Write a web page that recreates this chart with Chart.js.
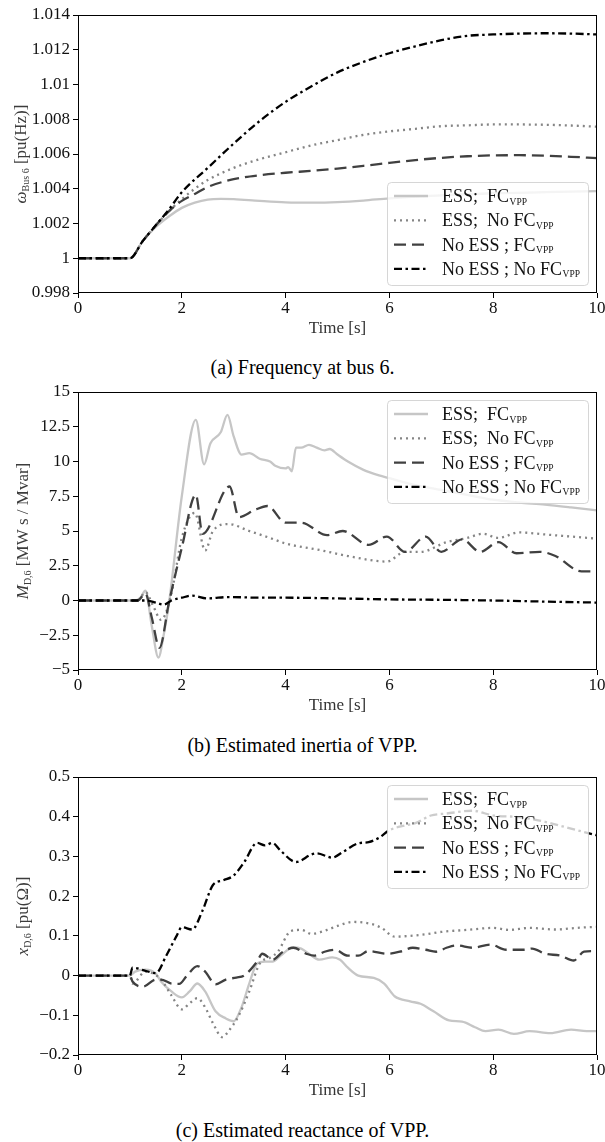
<!DOCTYPE html>
<html>
<head>
<meta charset="utf-8">
<script src="https://cdn.jsdelivr.net/npm/chart.js@4.4.1/dist/chart.umd.min.js"></script>
<style>
html,body{margin:0;padding:0;background:#fff;}
#wrap{position:relative;width:605px;height:1142px;overflow:hidden;}
canvas{position:absolute;left:0;}
.cap{position:absolute;left:0;width:605px;text-align:center;font-family:'Liberation Serif','Times New Roman',serif;font-size:20px;line-height:24px;color:#000;}
</style>
</head>
<body>
<div id="wrap">
<canvas id="c1" width="605" height="345" style="top:0px"></canvas>
<div class="cap" style="top:355px">(a) Frequency at bus 6.</div>
<canvas id="c2" width="605" height="345" style="top:377px"></canvas>
<div class="cap" style="top:733px">(b) Estimated inertia of VPP.</div>
<canvas id="c3" width="605" height="345" style="top:762px"></canvas>
<div class="cap" style="top:1118px">(c) Estimated reactance of VPP.</div>
</div>
<script>
// ---------- shared labels ----------
const seriesLabels = ['ESS;  FC', 'ESS;  No FC', 'No ESS ; FC', 'No ESS ; No FC'];
const seriesSub = 'VPP';
const xTitle = 'Time [s]';
const xTickValues = [0, 2, 4, 6, 8, 10];
const xTickLabels = ['0', '2', '4', '6', '8', '10'];

// ---------- (a) frequency at bus 6 ----------
const freqTickValues = [0.998, 1.0, 1.002, 1.004, 1.006, 1.008, 1.01, 1.012, 1.014];
const freqTickLabels = ['0.998', '1', '1.002', '1.004', '1.006', '1.008', '1.01', '1.012', '1.014'];
const freqTitle = [['ω', 'i'], ['Bus 6', 's'], [' [pu(Hz)]', 'n']];
const freqT_essFc = [0, 1.0, 1.25, 1.5, 1.75, 2.0, 2.25, 2.5, 2.75, 3.0, 3.5, 4.0, 4.5, 5.0, 5.5, 6.0, 7.0, 8.0, 9.0, 10];
const freqV_essFc = [1.0, 1.0, 1.0010, 1.0018, 1.0024, 1.0029, 1.0032, 1.00338, 1.00342, 1.0034, 1.0033, 1.00322, 1.0032, 1.00323, 1.00332, 1.00345, 1.00362, 1.00374, 1.0038, 1.00386];
const freqT_essNoFc = [0, 1.0, 1.25, 1.5, 1.75, 2.0, 2.25, 2.5, 3.0, 3.5, 4.0, 4.5, 5.0, 5.5, 6.0, 6.5, 7.0, 7.5, 8.0, 8.5, 9.0, 9.5, 10];
const freqV_essNoFc = [1.0, 1.0, 1.0010, 1.0019, 1.0027, 1.0034, 1.0040, 1.0045, 1.0052, 1.0057, 1.0061, 1.0065, 1.0068, 1.0071, 1.0073, 1.00745, 1.0076, 1.00765, 1.0077, 1.0077, 1.00768, 1.00764, 1.00757];
const freqT_noEssFc = [0, 1.0, 1.25, 1.5, 1.75, 2.0, 2.25, 2.5, 3.0, 3.5, 4.0, 4.5, 5.0, 5.5, 6.0, 6.5, 7.0, 7.5, 8.0, 8.5, 9.0, 9.5, 10];
const freqV_noEssFc = [1.0, 1.0, 1.0010, 1.0019, 1.0027, 1.0033, 1.0037, 1.0041, 1.00455, 1.00478, 1.00492, 1.00503, 1.00516, 1.00532, 1.00549, 1.00565, 1.00578, 1.00587, 1.00592, 1.00593, 1.0059, 1.00584, 1.00576];
const freqT_noEssNoFc = [0, 1.0, 1.25, 1.5, 1.75, 2.0, 2.5, 3.0, 3.5, 4.0, 4.5, 5.0, 5.5, 6.0, 6.5, 7.0, 7.5, 8.0, 8.5, 9.0, 9.5, 10];
const freqV_noEssNoFc = [1.0, 1.0, 1.0010, 1.0019, 1.0028, 1.0038, 1.0052, 1.0066, 1.0079, 1.0090, 1.0099, 1.0107, 1.0113, 1.0118, 1.0122, 1.01255, 1.0128, 1.01288, 1.01293, 1.01295, 1.01293, 1.01288];

// ---------- (b) estimated inertia ----------
const inTickValues = [-5, -2.5, 0, 2.5, 5, 7.5, 10, 12.5, 15];
const inTickLabels = ['\u22125', '\u22122.5', '0', '2.5', '5', '7.5', '10', '12.5', '15'];
const inTitle = [['M', 'i'], ['D,6', 's'], [' [MW s / Mvar]', 'n']];
const inT_essFc = [0, 1.1, 1.2, 1.3, 1.42, 1.55, 1.65, 1.76, 2.0, 2.27, 2.43, 2.55, 2.75, 2.88, 3.0, 3.15, 3.3, 3.5, 3.7, 3.8, 4.0, 4.05, 4.12, 4.2, 4.3, 4.45, 4.6, 4.75, 4.85, 5.0, 5.2, 5.5, 5.8, 6.0, 6.5, 7.0, 7.5, 8.0, 8.5, 9.0, 9.5, 10];
const inV_essFc = [0, 0, 0.2, 0.7, -1.8, -4.1, -2.5, 0, 7.5, 13.0, 9.8, 11.3, 12.1, 13.35, 11.8, 10.5, 10.6, 10.2, 10.0, 9.7, 9.5, 9.6, 9.3, 11.0, 11.0, 11.2, 11.0, 10.8, 10.9, 10.5, 10.0, 9.4, 9.0, 8.8, 8.3, 7.95, 7.6, 7.25, 7.05, 6.9, 6.7, 6.48];
const inT_essNoFc = [0, 1.15, 1.3, 1.45, 1.6, 1.8, 2.0, 2.25, 2.45, 2.6, 2.9, 3.3, 3.7, 4.0, 4.7, 5.2, 5.95, 6.3, 6.6, 7.1, 7.5, 7.8, 8.1, 8.5, 9.0, 9.5, 10];
const inV_essNoFc = [0, 0, 0.6, -0.4, -1.4, 0.5, 4.5, 6.3, 3.6, 5.0, 5.5, 5.0, 4.5, 4.1, 3.6, 3.2, 2.8, 3.5, 3.5, 4.2, 4.5, 4.8, 4.5, 4.9, 4.75, 4.6, 4.45];
const inT_noEssFc = [0, 1.15, 1.3, 1.42, 1.57, 1.75, 2.0, 2.27, 2.4, 2.92, 3.1, 3.4, 3.65, 4.0, 4.3, 4.8, 5.1, 5.6, 5.95, 6.3, 6.7, 7.0, 7.4, 7.75, 8.1, 8.45, 8.9, 9.2, 9.7, 10];
const inV_noEssFc = [0, 0, 0.5, -1.2, -3.4, -0.2, 3.8, 7.6, 4.8, 8.2, 6.0, 6.5, 6.8, 5.6, 5.6, 4.7, 5.0, 4.0, 4.6, 3.5, 4.6, 3.5, 4.4, 3.5, 4.2, 3.4, 3.5, 3.2, 2.1, 2.1];
const inT_noEssNoFc = [0, 1.3, 1.5, 1.65, 1.8, 2.0, 2.2, 2.5, 2.9, 3.5, 4.0, 5.0, 6.0, 7.0, 8.0, 9.0, 10];
const inV_noEssNoFc = [0, 0, -0.15, -0.3, 0, 0.2, 0.35, 0.15, 0.25, 0.2, 0.2, 0.15, 0.08, 0.05, 0.0, -0.08, -0.15];

// ---------- (c) estimated reactance ----------
const xdTickValues = [-0.2, -0.1, 0, 0.1, 0.2, 0.3, 0.4, 0.5];
const xdTickLabels = ['\u22120.2', '\u22120.1', '0', '0.1', '0.2', '0.3', '0.4', '0.5'];
const xdTitle = [['x', 'i'], ['D,6', 's'], [' [pu(\u03A9)]', 'n']];
const xdT_essFc = [0, 1.0, 1.1, 1.3, 1.5, 1.6, 1.8, 2.0, 2.15, 2.3, 2.45, 2.65, 2.85, 3.0, 3.15, 3.3, 3.45, 3.6, 3.75, 3.9, 4.15, 4.3, 4.45, 4.65, 4.9, 5.05, 5.2, 5.4, 5.7, 5.9, 6.1, 6.4, 6.6, 6.85, 7.15, 7.4, 7.65, 7.85, 8.1, 8.4, 8.7, 9.1, 9.5, 9.8, 10];
const xdV_essFc = [0, 0, 0.01, 0.015, 0.005, -0.015, -0.04, -0.055, -0.04, -0.02, -0.04, -0.09, -0.108, -0.115, -0.08, -0.02, 0.03, 0.035, 0.035, 0.05, 0.071, 0.068, 0.055, 0.04, 0.046, 0.04, 0.02, 0.0, -0.006, -0.02, -0.052, -0.065, -0.071, -0.09, -0.113, -0.116, -0.13, -0.14, -0.136, -0.147, -0.14, -0.145, -0.136, -0.14, -0.14];
const xdT_essNoFc = [0, 1.0, 1.05, 1.3, 1.6, 1.8, 2.0, 2.15, 2.3, 2.45, 2.6, 2.78, 2.9, 3.1, 3.3, 3.5, 3.7, 3.85, 4.1, 4.3, 4.5, 4.8, 5.0, 5.3, 5.65, 5.85, 6.1, 6.4, 6.7, 7.0, 7.5, 8.0, 8.3, 8.7, 9.2, 9.6, 10];
const xdV_essNoFc = [0, 0, -0.02, 0.01, -0.01, -0.05, -0.085, -0.07, -0.057, -0.08, -0.12, -0.155, -0.14, -0.1, -0.04, 0.03, 0.045, 0.06, 0.112, 0.115, 0.105, 0.115, 0.125, 0.135, 0.13, 0.12, 0.098, 0.1, 0.104, 0.11, 0.115, 0.12, 0.115, 0.12, 0.116, 0.12, 0.123];
const xdT_noEssFc = [0, 1.0, 1.05, 1.25, 1.5, 1.6, 1.8, 1.95, 2.1, 2.3, 2.45, 2.65, 2.85, 3.05, 3.2, 3.45, 3.55, 3.75, 3.95, 4.15, 4.4, 4.55, 4.75, 4.95, 5.2, 5.4, 5.6, 5.95, 6.2, 6.45, 6.7, 6.9, 7.1, 7.3, 7.6, 7.95, 8.25, 8.6, 8.75, 9.0, 9.3, 9.55, 9.75, 10];
const xdV_noEssFc = [0, 0, -0.015, -0.028, -0.01, -0.01, -0.02, -0.021, 0.0, 0.024, 0.01, -0.022, -0.01, -0.005, 0.0, 0.035, 0.055, 0.04, 0.06, 0.07, 0.055, 0.05, 0.06, 0.065, 0.05, 0.05, 0.062, 0.055, 0.06, 0.07, 0.065, 0.06, 0.07, 0.076, 0.07, 0.078, 0.065, 0.065, 0.068, 0.055, 0.05, 0.038, 0.06, 0.062];
const xdT_noEssNoFc = [0, 1.0, 1.05, 1.3, 1.5, 1.7, 1.9, 2.0, 2.2, 2.4, 2.6, 2.8, 3.0, 3.2, 3.45, 3.6, 3.75, 3.9, 4.2, 4.5, 4.6, 4.9, 5.1, 5.4, 5.6, 5.8, 6.0, 6.3, 6.5, 6.8, 7.1, 7.6, 8.0, 8.5, 9.0, 9.5, 10];
const xdV_noEssNoFc = [0, 0, 0.02, 0.012, 0.006, 0.05, 0.1, 0.122, 0.116, 0.164, 0.228, 0.24, 0.252, 0.285, 0.334, 0.328, 0.334, 0.315, 0.286, 0.305, 0.308, 0.297, 0.311, 0.333, 0.336, 0.347, 0.366, 0.378, 0.384, 0.403, 0.408, 0.415, 0.403, 0.399, 0.387, 0.37, 0.353];

// ---------- styling ----------
const SERIF = "'Liberation Serif', 'Times New Roman', serif";
const lineStyles = [
  { color: '#c6c6c6', dash: [], width: 2.3, order: 4 },
  { color: '#858585', dash: [2, 4], width: 2.3, order: 3 },
  { color: '#404040', dash: [12, 6], width: 2.3, order: 2 },
  { color: '#000000', dash: [8, 3.5, 2.5, 3.5], width: 2.3, order: 1 }
];

function pts(t, v) { return t.map((x, i) => ({ x: x, y: v[i] })); }

const framePlugin = {
  id: 'frame',
  afterDraw(chart) {
    const { ctx, chartArea: a } = chart;
    ctx.save();
    ctx.strokeStyle = '#000';
    ctx.lineWidth = 1;
    ctx.strokeRect(Math.round(a.left) + 0.5, Math.round(a.top) + 0.5, Math.round(a.right - a.left) - 1, Math.round(a.bottom - a.top) - 1);
    ctx.restore();
  }
};

const yTitlePlugin = {
  id: 'ytitle',
  afterDraw(chart, args, opts) {
    const { ctx, chartArea: a } = chart;
    const parts = opts.parts;
    const fonts = {
      i: 'italic 17px ' + SERIF,
      s: '10px ' + SERIF,
      n: '17px ' + SERIF
    };
    ctx.save();
    ctx.translate(opts.x, (a.top + a.bottom) / 2);
    ctx.rotate(-Math.PI / 2);
    let total = 0;
    const w = parts.map(p => { ctx.font = fonts[p[1]]; const m = ctx.measureText(p[0]).width; total += m; return m; });
    let x = -total / 2;
    ctx.fillStyle = '#3c3c3c';
    ctx.textBaseline = 'alphabetic';
    ctx.textAlign = 'left';
    parts.forEach((p, i) => {
      ctx.font = fonts[p[1]];
      ctx.fillText(p[0], x, p[1] === 's' ? 9 : 6);
      x += w[i];
    });
    ctx.restore();
  }
};

const legendPlugin = {
  id: 'mylegend',
  afterDatasetsDraw(chart, args, opts) {
    const { ctx, chartArea: a } = chart;
    const W = 201, H = 103;
    const x0 = a.right - 9 - W;
    const y0 = opts.pos === 'br' ? a.bottom - 8 - H : a.top + 8;
    ctx.save();
    ctx.beginPath();
    ctx.roundRect(x0 + 0.5, y0 + 0.5, W, H, 4);
    ctx.fillStyle = 'rgba(255,255,255,0.8)';
    ctx.fill();
    ctx.strokeStyle = 'rgba(204,204,204,0.8)';
    ctx.lineWidth = 1;
    ctx.stroke();
    chart.data.datasets.forEach((ds, i) => {
      const cy = y0 + 14 + i * 24.3;
      ctx.beginPath();
      ctx.setLineDash(ds.borderDash || []);
      ctx.strokeStyle = ds.borderColor;
      ctx.lineWidth = ds.borderWidth;
      ctx.moveTo(x0 + 7, cy);
      ctx.lineTo(x0 + 41, cy);
      ctx.stroke();
      ctx.setLineDash([]);
      ctx.fillStyle = '#111';
      ctx.textBaseline = 'alphabetic';
      ctx.textAlign = 'left';
      ctx.font = '18px ' + SERIF;
      ctx.fillText(seriesLabels[i], x0 + 55, cy + 6);
      const tw = ctx.measureText(seriesLabels[i]).width;
      ctx.font = '9.5px ' + SERIF;
      ctx.fillText(seriesSub, x0 + 55 + tw + 0.5, cy + 8.5);
    });
    ctx.restore();
  }
};

function makeChart(id, series, yMin, yMax, yTicks, yLabels, titleParts, titleX, legendPos) {
  const datasets = series.map((s, i) => ({
    label: seriesLabels[i] + ' ' + seriesSub,
    data: pts(s[0], s[1]),
    borderColor: lineStyles[i].color,
    borderDash: lineStyles[i].dash,
    borderWidth: lineStyles[i].width,
    order: lineStyles[i].order,
    pointRadius: 0,
    fill: false,
    cubicInterpolationMode: 'monotone',
    borderCapStyle: 'butt'
  }));
  return new Chart(document.getElementById(id), {
    type: 'line',
    data: { datasets },
    options: {
      responsive: false,
      animation: false,
      devicePixelRatio: 1,
      layout: { padding: { top: 15, right: 8, left: 0, bottom: 0 } },
      plugins: {
        legend: { display: false },
        tooltip: { enabled: false },
        ytitle: { parts: titleParts, x: titleX },
        mylegend: { pos: legendPos }
      },
      scales: {
        x: {
          type: 'linear', min: 0, max: 10,
          border: { display: false },
          grid: { drawOnChartArea: false, drawTicks: true, tickLength: 5, color: '#000', lineWidth: 1 },
          afterBuildTicks: s => { s.ticks = xTickValues.map(v => ({ value: v })); },
          ticks: {
            padding: 0, color: '#111', maxRotation: 0, autoSkip: false,
            font: { family: SERIF, size: 17 },
            callback: (v, i) => xTickLabels[i]
          },
          title: {
            display: true, text: xTitle, color: '#333',
            font: { family: SERIF, size: 17 },
            padding: { top: 0, bottom: 6 }
          },
          afterFit: s => { s.height = 52; s.paddingLeft = 0; s.paddingRight = 0; }
        },
        y: {
          type: 'linear', min: yMin, max: yMax,
          border: { display: false },
          grid: { drawOnChartArea: false, drawTicks: true, tickLength: 5, color: '#000', lineWidth: 1 },
          afterBuildTicks: s => { s.ticks = yTicks.map(v => ({ value: v })); },
          ticks: {
            padding: 3, color: '#111', autoSkip: false,
            font: { family: SERIF, size: 17 },
            callback: (v, i) => yLabels[i]
          },
          afterFit: s => { s.width = 78; s.paddingTop = 0; s.paddingBottom = 0; }
        }
      }
    },
    plugins: [framePlugin, yTitlePlugin, legendPlugin]
  });
}

makeChart('c1', [
  [freqT_essFc, freqV_essFc], [freqT_essNoFc, freqV_essNoFc],
  [freqT_noEssFc, freqV_noEssFc], [freqT_noEssNoFc, freqV_noEssNoFc]
], 0.998, 1.014, freqTickValues, freqTickLabels, freqTitle, 20, 'br');

makeChart('c2', [
  [inT_essFc, inV_essFc], [inT_essNoFc, inV_essNoFc],
  [inT_noEssFc, inV_noEssFc], [inT_noEssNoFc, inV_noEssNoFc]
], -5, 15, inTickValues, inTickLabels, inTitle, 22, 'tr');

makeChart('c3', [
  [xdT_essFc, xdV_essFc], [xdT_essNoFc, xdV_essNoFc],
  [xdT_noEssFc, xdV_noEssFc], [xdT_noEssNoFc, xdV_noEssNoFc]
], -0.2, 0.5, xdTickValues, xdTickLabels, xdTitle, 22, 'tr');
</script>
</body>
</html>
